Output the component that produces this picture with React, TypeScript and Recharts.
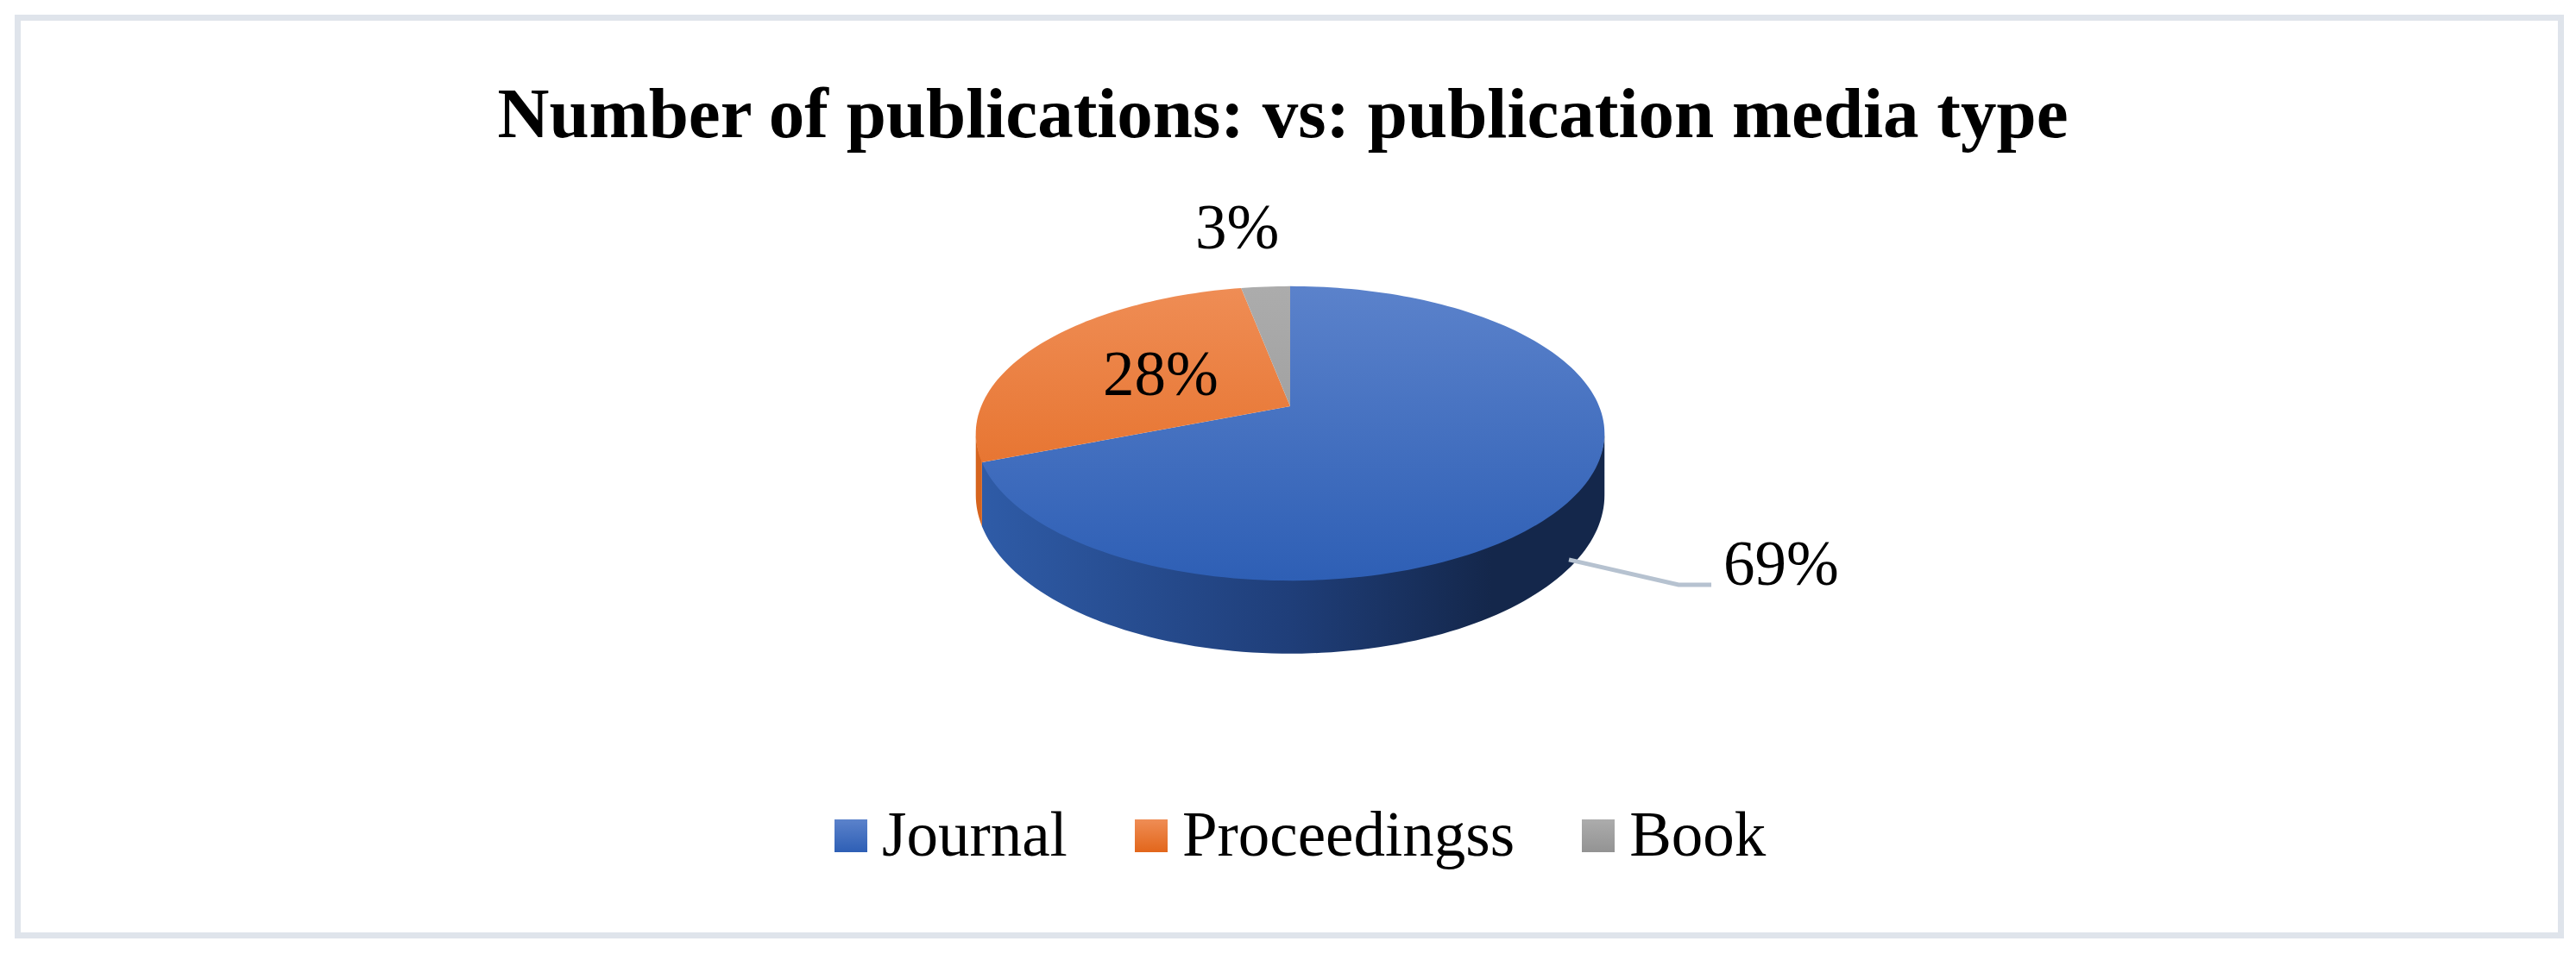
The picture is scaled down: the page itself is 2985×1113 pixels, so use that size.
import { PieChart, Pie, Cell, Legend } from "recharts";

const categories = ["Journal", "Proceedingss", "Book"];
const shares = [69, 28, 3];

// top face gradient (top -> bottom), side wall gradient (left -> right)
const topColors = [
  ["#5b82cb", "#2e5fb5"],
  ["#ef8d55", "#e2661b"],
  ["#acacac", "#939393"],
];
const sideColors = [
  ["#2f5ca8", "#1f3e79", "#14274b"],
  ["#d6641e", "#c4561a", "#a94812"],
  ["#9a9a9a", "#7e7e7e", "#6a6a6a"],
];

const data = categories.map((name, i) => ({ name, value: shares[i] }));

// simple perspective: disc seen from the front and above
const PERSP = 5.415; // camera distance in radii
const TILT = 0.4604; // vertical squash of the disc
const WALL = 69; // thickness of the disc
const EDGE = (Math.asin(1 / PERSP) * 180) / Math.PI; // where the side wall becomes visible
const FONT = "'Liberation Serif', 'Times New Roman', serif";

function project(cx: number, cy: number, r: number, deg: number, rho = 1) {
  const a = (deg * Math.PI) / 180;
  const X = rho * Math.cos(a);
  const Z = -rho * Math.sin(a);
  const s = PERSP / (PERSP - Z);
  return { x: cx + r * X * s, y: cy + r * TILT * Z * s, s };
}

function arc(cx: number, cy: number, r: number, a0: number, a1: number, down = 0, dy = 0) {
  const n = Math.max(2, Math.ceil(Math.abs(a1 - a0) / 1.5));
  const pts: string[] = [];
  for (let k = 0; k <= n; k++) {
    const p = project(cx, cy, r, a0 + ((a1 - a0) * k) / n);
    pts.push(`${p.x},${p.y + down * p.s + dy}`);
  }
  return pts;
}

function Slice3D(props: any) {
  const { cx, cy, outerRadius: r, startAngle, endAngle } = props;
  const name = props.payload?.name ?? props.name;
  const i = Math.max(0, categories.indexOf(name));
  const lo = Math.min(startAngle, endAngle);
  const hi = Math.max(startAngle, endAngle);

  const walls: string[] = [];
  for (let k = -2; k <= 1; k++) {
    const a = Math.max(lo, -180 + EDGE + 360 * k);
    const b = Math.min(hi, -EDGE + 360 * k);
    if (b > a) {
      const upper = arc(cx, cy, r, a, b, 0, -2);
      const lower = arc(cx, cy, r, b, a, WALL);
      walls.push(`M${upper.join("L")}L${lower.join("L")}Z`);
    }
  }
  const top = `M${cx},${cy}L${arc(cx, cy, r, startAngle, endAngle).join("L")}Z`;
  const yTop = project(cx, cy, r, 90).y;
  const yBottom = project(cx, cy, r, 270).y;
  const half = r * (1 / Math.sqrt(1 - 1 / (PERSP * PERSP)));

  return (
    <g>
      <defs>
        <linearGradient id={`top-${i}`} gradientUnits="userSpaceOnUse" x1={0} y1={yTop} x2={0} y2={yBottom}>
          <stop offset="0" stopColor={topColors[i][0]} />
          <stop offset="1" stopColor={topColors[i][1]} />
        </linearGradient>
        <linearGradient id={`side-${i}`} gradientUnits="userSpaceOnUse" x1={cx - half} y1={0} x2={cx + half} y2={0}>
          <stop offset="0" stopColor={sideColors[i][0]} />
          <stop offset="0.5" stopColor={sideColors[i][1]} />
          <stop offset="0.82" stopColor={sideColors[i][2]} />
          <stop offset="1" stopColor={sideColors[i][2]} />
        </linearGradient>
      </defs>
      {walls.map((d, k) => (
        <path key={k} d={d} fill={`url(#side-${i})`} stroke="none" />
      ))}
      <path d={top} fill={`url(#top-${i})`} stroke="none" />
    </g>
  );
}

function renderLabel(props: any) {
  const { cx, cy, outerRadius: r, midAngle, percent } = props;
  const text = `${Math.round(percent * 100)}%`;
  const style = { fontFamily: FONT, fontSize: 73, fill: "#000" };

  if (percent > 0.5) {
    const p = project(cx, cy, r, midAngle, 0.98);
    const x0 = p.x;
    const y0 = p.y + WALL * p.s;
    const x1 = x0 + 127;
    const y1 = y0 + 29;
    const x2 = x1 + 38;
    return (
      <g>
        <polyline points={`${x0},${y0} ${x1},${y1} ${x2},${y1}`} fill="none" stroke="#b6c2d0" strokeWidth={5} />
        <text x={x2 + 14} y={y1} textAnchor="start" {...style}>{text}</text>
      </g>
    );
  }
  if (percent < 0.1) {
    const p = project(cx, cy, r, midAngle);
    return <text x={p.x - 33} y={p.y - 44} textAnchor="middle" {...style}>{text}</text>;
  }
  const p = project(cx, cy, r, midAngle, 0.5);
  return <text x={p.x} y={p.y + 25} textAnchor="middle" {...style}>{text}</text>;
}

function renderLegend({ payload }: any) {
  const items: string[] = (payload ?? [])
    .map((entry: any) => String(entry.value))
    .sort((a: string, b: string) => categories.indexOf(a) - categories.indexOf(b));
  return (
    <div style={{ position: "relative", height: 80 }}>
      <div style={{ position: "absolute", left: 967, top: 0, display: "flex", alignItems: "flex-start" }}>
        {items.map((name, k) => {
          const i = Math.max(0, categories.indexOf(name));
          return (
            <div key={name} style={{ display: "flex", alignItems: "flex-start", marginRight: k < items.length - 1 ? 78 : 0 }}>
              <div
                style={{
                  width: 38,
                  height: 38,
                  marginTop: 19,
                  background: `linear-gradient(${topColors[i][0]}, ${topColors[i][1]})`,
                }}
              />
              <span style={{ marginLeft: 17, fontFamily: FONT, fontSize: 73, lineHeight: "73px", color: "#000", whiteSpace: "nowrap" }}>
                {name}
              </span>
            </div>
          );
        })}
      </div>
    </div>
  );
}

export default function App() {
  return (
    <div style={{ position: "absolute", left: 0, top: 0, width: 2985, height: 1113, background: "#fff" }}>
      <div
        style={{
          position: "absolute",
          left: 17,
          top: 17,
          width: 2954,
          height: 1071,
          boxSizing: "border-box",
          border: "7px solid #dfe4eb",
        }}
      />
      <div style={{ position: "absolute", left: 0, top: 0 }}>
        <PieChart width={2985} height={1113} margin={{ top: 0, right: 0, bottom: 0, left: 0 }}>
          <Pie
            data={data}
            dataKey="value"
            nameKey="name"
            cx={1495}
            cy={471}
            outerRadius={358}
            startAngle={90}
            endAngle={-270}
            stroke="none"
            isAnimationActive={false}
            label={renderLabel}
            labelLine={false}
            shape={Slice3D}
          >
            {data.map((d, i) => (
              <Cell key={d.name} fill={topColors[i][1]} />
            ))}
          </Pie>
          <Legend
            content={renderLegend}
            wrapperStyle={{ left: 0, top: 931, bottom: "auto", width: 2985, height: 80 }}
          />
        </PieChart>
      </div>
      <div
        style={{
          position: "absolute",
          left: -6,
          top: 90,
          width: 2985,
          textAlign: "center",
          fontFamily: FONT,
          fontWeight: "bold",
          fontSize: 83,
          lineHeight: "83px",
          color: "#000",
          whiteSpace: "nowrap",
        }}
      >
        Number of publications: vs: publication media type
      </div>
    </div>
  );
}
